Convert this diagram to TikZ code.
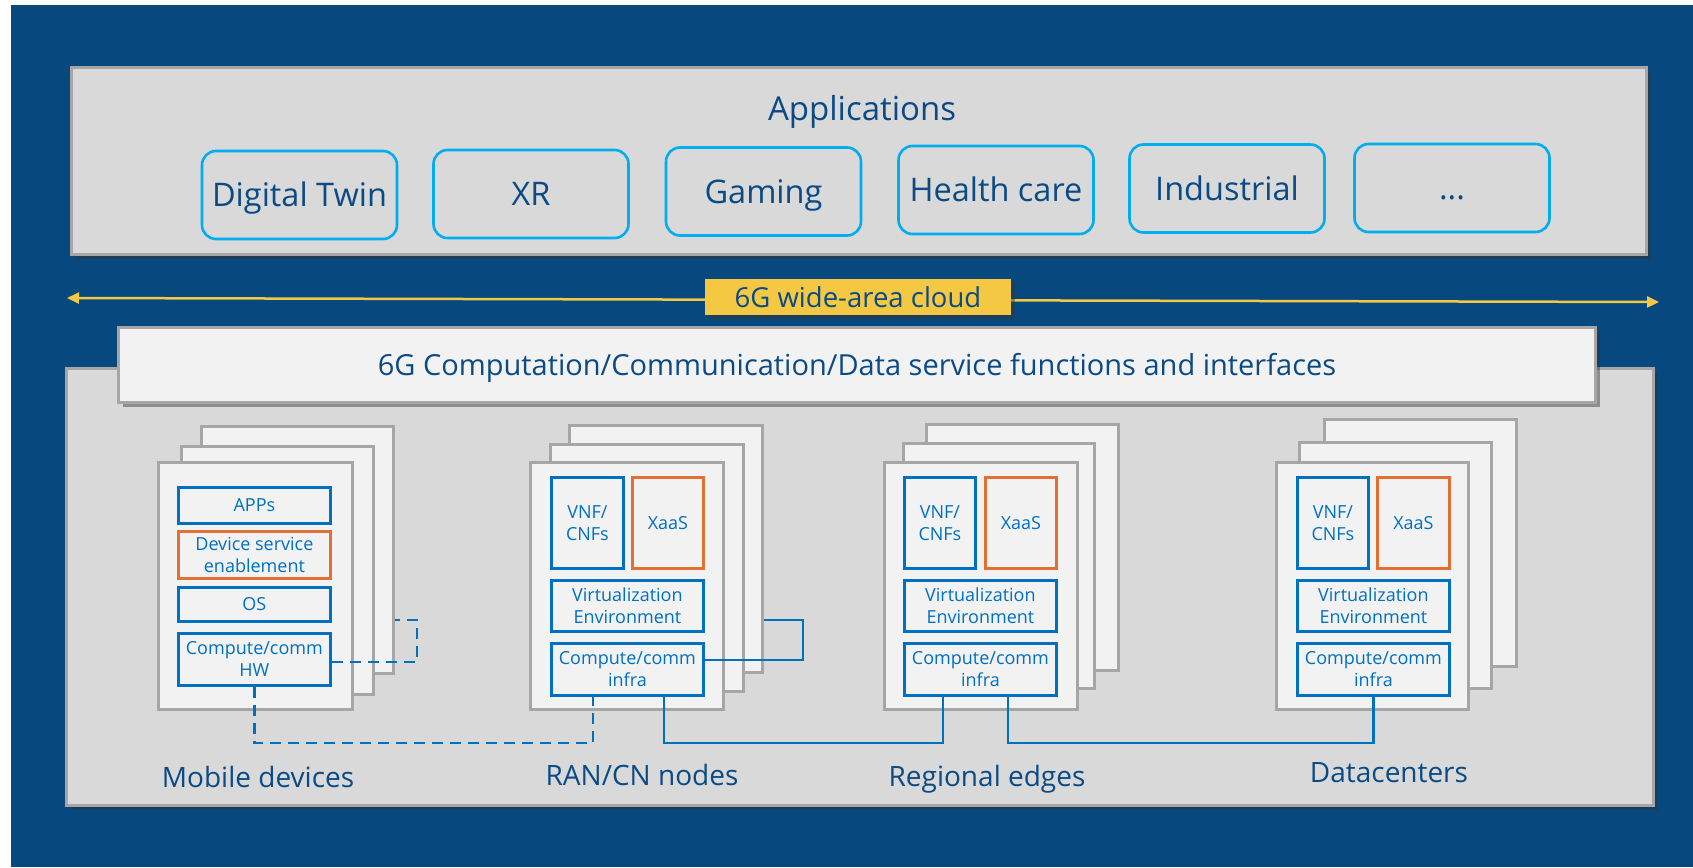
\documentclass[tikz,border=0pt]{standalone}
\usepackage{fontspec}
\setmainfont{Open Sans}
\usetikzlibrary{arrows.meta,shadows}

\definecolor{bgblue}{RGB}{7,73,127}
\definecolor{panelgray}{RGB}{217,217,217}
\definecolor{edgegray}{RGB}{166,166,166}
\definecolor{pagewhite}{RGB}{242,242,242}
\definecolor{appcyan}{RGB}{0,174,239}
\definecolor{textblue}{RGB}{10,74,133}
\definecolor{boxblue}{RGB}{0,112,192}
\definecolor{boxorange}{RGB}{226,112,50}
\definecolor{cloudyellow}{RGB}{244,200,66}

\newcommand\sz[2]{\fontsize{#1pt}{#2pt}\selectfont}

\tikzset{
  softshadow/.style={drop shadow={shadow xshift=4pt,shadow yshift=-4pt,opacity=0.45,fill=black!80}},
  panel/.style={draw=edgegray, line width=3pt, fill=panelgray, anchor=north west, inner sep=0pt, softshadow},
  servicebar/.style={draw=edgegray, line width=3pt, fill=pagewhite, anchor=north west, inner sep=0pt,
    text=textblue, font=\sz{29}{34}, text height=21pt, text depth=0pt, softshadow},
  appbox/.style={draw=appcyan, line width=2.6pt, rounded corners=14pt, fill=panelgray,
    minimum width=195pt, minimum height=88pt, inner sep=0pt, text=textblue, font=\sz{32.5}{38},
    text height=23pt, text depth=0pt},
  cloudtag/.style={fill=cloudyellow, minimum width=306pt, minimum height=36pt, inner sep=0pt,
    text=textblue, font=\sz{27.5}{32}, text height=20pt, text depth=0pt, softshadow},
  page/.style={draw=edgegray, line width=2.5pt, fill=pagewhite, anchor=north west, inner sep=0pt},
  ibox/.style={draw=boxblue, line width=2.8pt, fill=pagewhite, anchor=north west, inner sep=0pt,
    text=boxblue, font=\sz{18}{22}, align=center},
  obox/.style={ibox, draw=boxorange},
  link/.style={draw=boxblue, line width=2.6pt},
  dashlink/.style={link, dash pattern=on 11pt off 7pt},
  sitelabel/.style={text=textblue, font=\sz{28}{32}, text height=20pt, text depth=0pt},
  cloudline/.style={draw=cloudyellow, line width=2.5pt,
    {Triangle[length=12pt,width=11pt]}-{Triangle[length=12pt,width=11pt]}}
}

\begin{document}
\begin{tikzpicture}[x=1pt,y=-1pt]
\useasboundingbox (0,0) rectangle (1693,867);
\fill[white] (0,0) rectangle (1693,867);
\fill[bgblue] (11,5) rectangle (1693,867);

% application layer
\node[panel, minimum width=1575pt, minimum height=187pt] (appsPanel) at (70,66) {};
\node[text=textblue, font=\sz{33}{38}, text height=24pt, text depth=0pt] (appsTitle) at (862,108) {Applications};
\node[appbox] (twin)  at (299.5,195) {Digital Twin};
\node[appbox] (xr)    at (531,194)   {XR};
\node[appbox] (game)  at (763.5,191.5) {Gaming};
\node[appbox] (health) at (996,190)  {Health care};
\node[appbox] (indus) at (1227,188.5) {Industrial};
\node[appbox] (more)  at (1452,188)  {...};

% wide-area cloud arrow
\coordinate (cloudL) at (67,298);
\coordinate (cloudR) at (1659,302);
\draw[cloudline] (cloudL) -- (cloudR);
\node[cloudtag] (cloud) at (858,297) {6G wide-area cloud};

% infrastructure layer
\node[panel, minimum width=1587pt, minimum height=437pt] (infraPanel) at (65,367) {};
\node[servicebar, minimum width=1477pt, minimum height=75pt] (services) at (117,326)
  {6G Computation/Communication/Data service functions and interfaces};

% mobile devices
\node[page, minimum width=192pt, minimum height=247pt] (mobBack) at (200,425) {};
\node[page, minimum width=192pt, minimum height=248pt] (mobMid)  at (180,445) {};
\node[page, minimum width=194pt, minimum height=247pt] (mobFront) at (157,461) {};
\node[ibox, minimum width=152pt, minimum height=36pt] (mobApps) at (177,486) {APPs};
\node[obox, minimum width=152pt, minimum height=47pt] (mobDse) at (177,530) {Device service\\enablement};
\node[ibox, minimum width=152pt, minimum height=34pt] (mobOs) at (177,586) {OS};
\node[ibox, minimum width=152pt, minimum height=52pt] (mobHw) at (177,632) {Compute/comm\\HW};

% RAN/CN nodes
\node[page, minimum width=193pt, minimum height=247pt] (ranBack) at (568,424) {};
\node[page, minimum width=193pt, minimum height=247pt] (ranMid)  at (549,443) {};
\node[page, minimum width=193pt, minimum height=247pt] (ranFront) at (529,461) {};
\node[ibox, minimum width=72pt, minimum height=91pt] (ranVnf) at (550,476) {VNF/\\CNFs};
\node[obox, minimum width=71pt, minimum height=91pt] (ranXaas) at (631,476) {XaaS};
\node[ibox, minimum width=152pt, minimum height=51pt] (ranVirt) at (550,579) {Virtualization\\Environment};
\node[ibox, minimum width=152pt, minimum height=52pt] (ranInfra) at (550,642) {Compute/comm\\infra};

% regional edges
\node[page, minimum width=192pt, minimum height=246pt] (regBack) at (925,423) {};
\node[page, minimum width=191pt, minimum height=245pt] (regMid)  at (902,442) {};
\node[page, minimum width=193pt, minimum height=247pt] (regFront) at (883,461) {};
\node[ibox, minimum width=71pt, minimum height=91pt] (regVnf) at (903,476) {VNF/\\CNFs};
\node[obox, minimum width=71pt, minimum height=91pt] (regXaas) at (984,476) {XaaS};
\node[ibox, minimum width=152pt, minimum height=51pt] (regVirt) at (903,579) {Virtualization\\Environment};
\node[ibox, minimum width=152pt, minimum height=52pt] (regInfra) at (903,642) {Compute/comm\\infra};

% datacenters
\node[page, minimum width=192pt, minimum height=247pt] (dcBack) at (1323,418) {};
\node[page, minimum width=192pt, minimum height=246pt] (dcMid)  at (1298,441) {};
\node[page, minimum width=192pt, minimum height=247pt] (dcFront) at (1275,461) {};
\node[ibox, minimum width=71pt, minimum height=91pt] (dcVnf) at (1296,476) {VNF/\\CNFs};
\node[obox, minimum width=72pt, minimum height=91pt] (dcXaas) at (1376,476) {XaaS};
\node[ibox, minimum width=152pt, minimum height=51pt] (dcVirt) at (1296,579) {Virtualization\\Environment};
\node[ibox, minimum width=152pt, minimum height=52pt] (dcInfra) at (1296,642) {Compute/comm\\infra};

% device-to-device and device-to-RAN links (dashed)
\coordinate (mobLoopLow) at (417,662);
\coordinate (mobLoopHigh) at (417,620);
\draw[dashlink] (mobHw.east |- mobLoopLow) -- (mobLoopLow) -- (mobLoopHigh) -- (mobBack.east |- mobLoopHigh);
\coordinate (mobRanTurn) at (593,743);
\draw[dashlink] (mobHw.south) |- (mobRanTurn) -- (ranInfra.south -| mobRanTurn);

% RAN-to-RAN loop and backhaul links (solid)
\coordinate (ranLoopLow) at (803,660);
\coordinate (ranLoopHigh) at (803,620);
\draw[link] (ranInfra.east |- ranLoopLow) -- (ranLoopLow) -- (ranLoopHigh) -- (ranBack.east |- ranLoopHigh);
\coordinate (ranOut) at (664,743);
\coordinate (regIn) at (943,743);
\draw[link] (ranInfra.south -| ranOut) -- (ranOut) -- (regIn) -- (regInfra.south -| regIn);
\coordinate (regOut) at (1008,743);
\draw[link] (regInfra.south -| regOut) -- (regOut) -| (dcInfra.south);

% site labels
\node[sitelabel] (lblMob) at (258,777) {Mobile devices};
\node[sitelabel] (lblRan) at (642,775) {RAN/CN nodes};
\node[sitelabel] (lblReg) at (987,776) {Regional edges};
\node[sitelabel] (lblDc)  at (1389,772) {Datacenters};
\end{tikzpicture}
\end{document}
